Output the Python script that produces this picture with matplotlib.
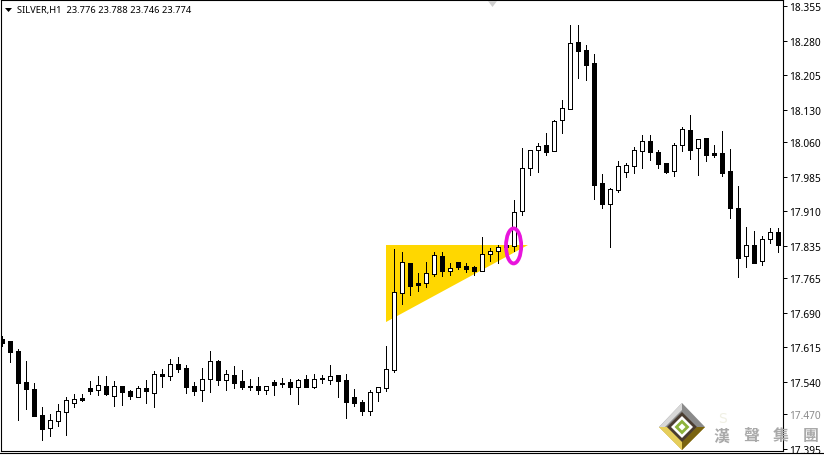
import matplotlib
matplotlib.use("Agg")
import matplotlib.pyplot as plt
from matplotlib.patches import Ellipse, Polygon, Rectangle

# velas H1
opens = [17.633, 17.629, 17.608, 17.540, 17.525, 17.469, 17.440, 17.456, 17.475, 17.494,
         17.505, 17.527, 17.523, 17.532, 17.510, 17.532, 17.521, 17.508, 17.527, 17.516,
         17.557, 17.553, 17.579, 17.570, 17.532, 17.523, 17.547, 17.586, 17.545, 17.555,
         17.543, 17.532, 17.532, 17.523, 17.540, 17.538, 17.540, 17.530, 17.547, 17.530,
         17.549, 17.545, 17.555, 17.545, 17.508, 17.497, 17.478, 17.519, 17.527, 17.566,
         17.733, 17.798, 17.754, 17.754, 17.774, 17.813, 17.780, 17.800, 17.791, 17.789,
         17.780, 17.817, 17.824, 17.837, 17.835, 17.911, 18.004, 18.043, 18.054, 18.041,
         18.108, 18.132, 18.276, 18.259, 18.231, 17.971, 17.926, 17.956, 17.995, 18.008,
         18.041, 18.062, 18.039, 18.015, 17.997, 18.054, 18.086, 18.047, 18.069, 18.036,
         18.036, 17.997, 17.917, 17.813, 17.837, 17.802, 17.850, 17.865]
highs = [17.640, 17.629, 17.612, 17.586, 17.538, 17.486, 17.471, 17.492, 17.508, 17.514,
         17.514, 17.543, 17.553, 17.553, 17.543, 17.532, 17.523, 17.532, 17.545, 17.564,
         17.568, 17.590, 17.594, 17.577, 17.540, 17.570, 17.608, 17.588, 17.566, 17.575,
         17.566, 17.547, 17.551, 17.532, 17.545, 17.549, 17.547, 17.547, 17.555, 17.557,
         17.555, 17.577, 17.555, 17.557, 17.525, 17.501, 17.523, 17.530, 17.618, 17.828,
         17.822, 17.798, 17.776, 17.800, 17.822, 17.822, 17.798, 17.800, 17.798, 17.791,
         17.854, 17.830, 17.837, 17.837, 17.934, 18.047, 18.043, 18.058, 18.079, 18.108,
         18.151, 18.314, 18.314, 18.270, 18.251, 17.991, 17.960, 18.019, 18.015, 18.049,
         18.075, 18.075, 18.043, 18.015, 18.058, 18.092, 18.119, 18.067, 18.069, 18.054,
         18.084, 18.045, 17.965, 17.876, 17.867, 17.856, 17.874, 17.874]
lows = [17.618, 17.583, 17.458, 17.482, 17.467, 17.415, 17.423, 17.445, 17.425, 17.486,
        17.499, 17.514, 17.512, 17.512, 17.488, 17.490, 17.503, 17.508, 17.494, 17.486,
        17.530, 17.545, 17.562, 17.516, 17.512, 17.499, 17.519, 17.534, 17.523, 17.527,
        17.525, 17.523, 17.514, 17.514, 17.512, 17.530, 17.514, 17.492, 17.530, 17.527,
        17.538, 17.536, 17.508, 17.462, 17.488, 17.469, 17.469, 17.499, 17.521, 17.562,
        17.709, 17.729, 17.737, 17.746, 17.770, 17.770, 17.772, 17.785, 17.778, 17.772,
        17.780, 17.802, 17.798, 17.828, 17.824, 17.902, 17.989, 17.995, 18.032, 18.041,
        18.079, 18.132, 18.199, 18.195, 17.937, 17.917, 17.833, 17.952, 17.984, 17.993,
        18.004, 18.021, 18.004, 17.993, 17.987, 18.041, 18.023, 17.989, 18.019, 18.028,
        17.987, 17.895, 17.768, 17.789, 17.798, 17.794, 17.841, 17.822]
closes = [17.624, 17.605, 17.538, 17.525, 17.467, 17.438, 17.458, 17.478, 17.501, 17.503,
          17.501, 17.521, 17.534, 17.514, 17.532, 17.519, 17.510, 17.527, 17.521, 17.557,
          17.553, 17.579, 17.568, 17.530, 17.521, 17.547, 17.586, 17.545, 17.557, 17.538,
          17.530, 17.530, 17.523, 17.532, 17.534, 17.536, 17.530, 17.545, 17.530, 17.547,
          17.547, 17.553, 17.543, 17.497, 17.494, 17.478, 17.519, 17.530, 17.568, 17.735,
          17.800, 17.748, 17.750, 17.776, 17.815, 17.780, 17.787, 17.789, 17.785, 17.780,
          17.817, 17.824, 17.833, 17.833, 17.909, 18.004, 18.043, 18.052, 18.039, 18.106,
          18.134, 18.274, 18.257, 18.227, 17.967, 17.926, 17.958, 18.008, 18.010, 18.043,
          18.062, 18.039, 18.012, 17.995, 18.054, 18.088, 18.043, 18.067, 18.032, 18.032,
          17.993, 17.917, 17.809, 17.837, 17.798, 17.850, 17.865, 17.837]

price_ticks = [18.355, 18.280, 18.205, 18.130, 18.060, 17.985, 17.910, 17.835,
               17.765, 17.690, 17.615, 17.540, 17.470, 17.395]

# triangulo: indice de vela y precio
tri_x = [48, 48, 65.75]
tri_y = [17.837, 17.670, 17.837]
circle_x = 63.95
circle_y = 17.835

header = "SILVER,H1  23.776 23.788 23.746 23.774"
logo_chars = ["漢", "聲", "集", "團"]
logo_char_x = [721, 751, 781, 811]

fig = plt.figure(figsize=(8.24, 4.56), dpi=100)
ax = fig.add_axes([1 / 824, 4 / 456, 782 / 824, 451 / 456])

ax.fill(tri_x, tri_y, color="#FFD700", lw=0, zorder=1)

x = list(range(len(opens)))
ax.vlines(x, lows, highs, color="black", lw=0.72, zorder=2, antialiased=False)
for i in x:
    bottom = min(opens[i], closes[i])
    height = abs(closes[i] - opens[i])
    face = "white" if closes[i] > opens[i] else "black"
    ax.add_patch(Rectangle((i - 0.25, bottom), 0.5, height, facecolor=face,
                           edgecolor="black", lw=0.72, zorder=3, antialiased=False))

ax.add_patch(Ellipse((circle_x, circle_y), 1.9, 0.076, fill=False,
                     edgecolor="#E815DC", lw=2.7, zorder=4))

ax.set_xlim(-0.125, 97.625)
ax.set_ylim(17.3905, 18.368)
ax.set_xticks([])
ax.yaxis.tick_right()
ax.set_yticks(price_ticks)
ax.set_yticklabels([f"{p:.3f}" for p in price_ticks], family="Noto Sans", fontsize=7.3)
ax.tick_params(axis="y", length=3, width=0.72, pad=1.5, color="black")
for s in ax.spines.values():
    s.set_linewidth(0.8)

# capa en pixeles para cabecera y logo
top = fig.add_axes([0, 0, 1, 1], facecolor="none")
top.set_xlim(0, 824)
top.set_ylim(456, 0)
top.axis("off")

top.plot([0, 824], [454.5, 454.5], color="black", lw=0.8)
top.add_patch(Polygon([(488, 2), (497, 2), (492.5, 8)], color="#CFCFCF", lw=0))
top.add_patch(Polygon([(5, 9), (12, 9), (8.5, 13)], color="black", lw=0))
top.text(17, 11, header, family="Noto Sans", fontsize=6.75, va="center", ha="left", color="black")

# logo
cx, cy = 682, 428


def rombo(r):
    return [(cx, cy - r), (cx + r, cy), (cx, cy + r), (cx - r, cy)]


top.add_patch(Polygon([(cx, cy - 24), (cx + 23, cy), (cx - 23, cy)], color="#8A8A8A", lw=0))
top.add_patch(Polygon([(cx, cy - 24), (cx - 23, cy), (cx - 17, cy), (cx, cy - 17)], color="#D8D8D8", lw=0))
top.add_patch(Polygon([(cx - 23, cy), (cx + 23, cy), (cx, cy + 23)], color="#B8982A", lw=0))
top.add_patch(Polygon([(cx, cy + 23), (cx + 23, cy), (cx + 15, cy), (cx, cy + 14)], color="#7A6410", lw=0))
top.add_patch(Polygon([(cx - 23, cy), (cx - 15, cy), (cx, cy + 14), (cx, cy + 23)], color="#E6CE5A", lw=0))
top.add_patch(Polygon(rombo(15), color="#4A3C30", lw=0))
top.add_patch(Polygon(rombo(11), color="white", lw=0))
top.add_patch(Polygon(rombo(7.5), color="#8DB33A", lw=0))
top.add_patch(Polygon(rombo(3.5), color="white", lw=0))

top.add_patch(Rectangle((788, 410), 34, 10, facecolor="white", alpha=0.55, lw=0))
top.text(723, 419, "S", family="DejaVu Sans", fontsize=10, color="#F0F0E4", ha="center", va="center")
for ch, lx in zip(logo_chars, logo_char_x):
    top.text(lx, 436.5, ch, family=["Noto Sans CJK TC", "DejaVu Sans"], fontsize=11.5,
             fontweight="bold", color="#A9A9A9", ha="center", va="center")

fig.savefig("out.png", dpi=100)
